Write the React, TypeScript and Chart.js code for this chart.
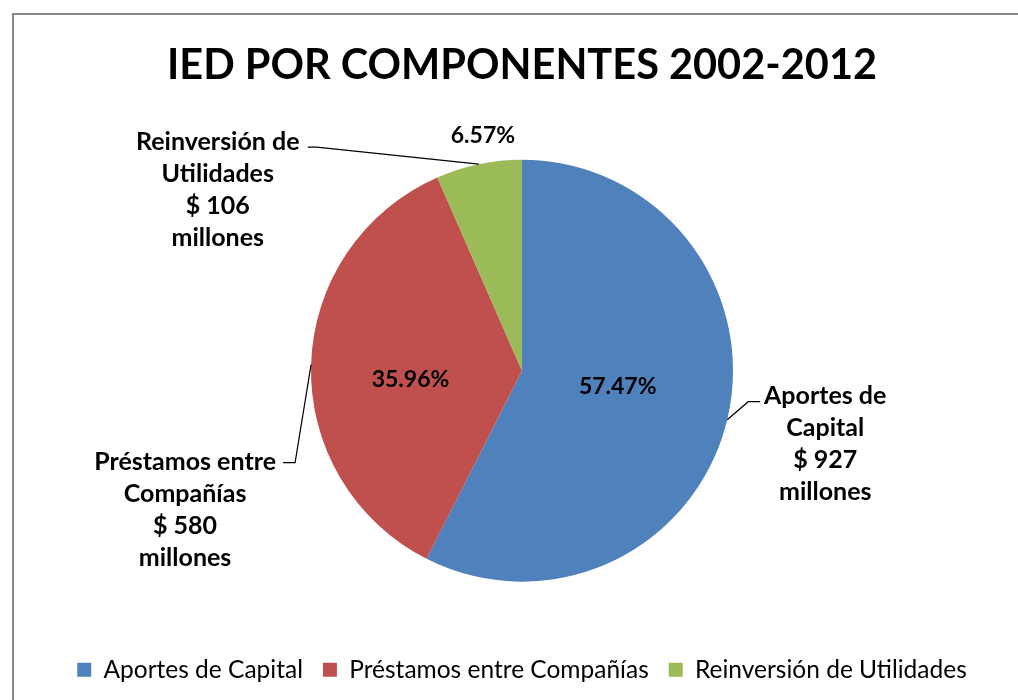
import React, { useEffect, useRef } from "react";
import { Chart, registerables } from "chart.js";

Chart.register(...registerables);

const categories = ["Aportes de Capital", "Préstamos entre Compañías", "Reinversión de Utilidades"];
const values = [927, 580, 106];
const labelLines = [["Aportes de", "Capital"], ["Préstamos entre", "Compañías"], ["Reinversión de", "Utilidades"]];
const unitText = "millones";
const titleText = "IED POR COMPONENTES 2002-2012";
const colors = ["#4F81BD", "#C0504D", "#9BBB59"];

const FONT = "Lato, Carlito, Calibri, 'Open Sans', sans-serif";

// label placement styling (polar nudges for % labels, offsets for callouts relative to the slice edge)
const pctPlacement = [
  { r: 0.46, dAngle: -3.9 },
  { r: 0.53, dAngle: -6.2 },
  { r: 1.13, dAngle: 2.4 },
];
const calloutPlacement = [
  { elbow: [21, -18], end: [33, -18], text: [98, -24] },
  { elbow: [-16, 98], end: [-28, 98], text: [-126, 97] },
  { elbow: [-162, -17], end: [-171, -17], text: [-261, -22] },
];

const borderPlugin = {
  id: "frameBorder",
  beforeDraw(chart: any) {
    const ctx = chart.ctx;
    ctx.save();
    ctx.fillStyle = "#ffffff";
    ctx.fillRect(0, 0, chart.width, chart.height);
    ctx.strokeStyle = "#868686";
    ctx.lineWidth = 2;
    ctx.strokeRect(13, 14, chart.width + 10, chart.height + 10);
    ctx.restore();
  },
};

const labelPlugin = {
  id: "sliceLabels",
  afterDatasetsDraw(chart: any) {
    const ctx = chart.ctx;
    const meta = chart.getDatasetMeta(0);
    const data = chart.data.datasets[0].data as number[];
    const total = data.reduce((a, b) => a + b, 0);
    ctx.save();
    meta.data.forEach((arc: any, i: number) => {
      const { x, y, startAngle, endAngle, outerRadius } = arc.getProps(
        ["x", "y", "startAngle", "endAngle", "outerRadius"],
        true
      );
      const mid = (startAngle + endAngle) / 2;
      // percentage
      const p = pctPlacement[i];
      const a = mid + (p.dAngle * Math.PI) / 180;
      const px = x + Math.cos(a) * outerRadius * p.r;
      const py = y + Math.sin(a) * outerRadius * p.r;
      ctx.font = `bold 23px ${FONT}`;
      ctx.fillStyle = "#000";
      ctx.textAlign = "center";
      ctx.textBaseline = "middle";
      ctx.fillText(((data[i] / total) * 100).toFixed(2) + "%", px, py);
      // callout
      const ex = x + Math.cos(mid) * outerRadius;
      const ey = y + Math.sin(mid) * outerRadius;
      const c = calloutPlacement[i];
      ctx.strokeStyle = "#000";
      ctx.lineWidth = 1.2;
      ctx.beginPath();
      ctx.moveTo(ex, ey);
      ctx.lineTo(ex + c.elbow[0], ey + c.elbow[1]);
      ctx.lineTo(ex + c.end[0], ey + c.end[1]);
      ctx.stroke();
      ctx.font = `bold 25px ${FONT}`;
      const lines = [...labelLines[i], "$ " + data[i], unitText];
      const tx = ex + c.text[0];
      const ty = ey + c.text[1];
      lines.forEach((ln, k) => {
        ctx.fillText(ln, tx, ty + k * 32);
      });
    });
    ctx.restore();
  },
};

export default function App() {
  const ref = useRef<HTMLCanvasElement>(null);
  useEffect(() => {
    let chart: Chart | null = null;
    let cancelled = false;
    const make = () => {
      if (cancelled || !ref.current) return;
      chart = new Chart(ref.current, {
        type: "pie",
        data: {
          labels: categories,
          datasets: [
            {
              data: values,
              backgroundColor: colors,
              borderWidth: 0,
              radius: 211,
            } as any,
          ],
        },
        options: {
          responsive: false,
          animation: false,
          events: [],
          layout: { padding: { left: 40, right: 14, top: 14, bottom: 8 } },
          plugins: {
            title: {
              display: true,
              text: titleText,
              color: "#000",
              font: { family: FONT, size: 41.5, weight: "bold", lineHeight: 1.2 },
              padding: { top: 27, bottom: 13 },
            },
            legend: {
              display: true,
              position: "bottom",
              labels: {
                color: "#000",
                font: { family: FONT, size: 24.5 },
                boxWidth: 14,
                boxHeight: 14,
                padding: 20,
              },
            },
            tooltip: { enabled: false },
          },
        },
        plugins: [borderPlugin, labelPlugin],
      });
    };
    const fontsReady = (document as any).fonts
      ? Promise.all([
          (document as any).fonts.load(`bold 40px Lato`),
          (document as any).fonts.load(`21px Lato`),
        ]).catch(() => null)
      : Promise.resolve(null);
    fontsReady.then(make);
    return () => {
      cancelled = true;
      if (chart) chart.destroy();
    };
  }, []);
  return (
    <div style={{ position: "absolute", left: 0, top: 0, width: 1018, height: 700 }}>
      <canvas ref={ref} width={1018} height={700} style={{ display: "block" }} />
    </div>
  );
}
